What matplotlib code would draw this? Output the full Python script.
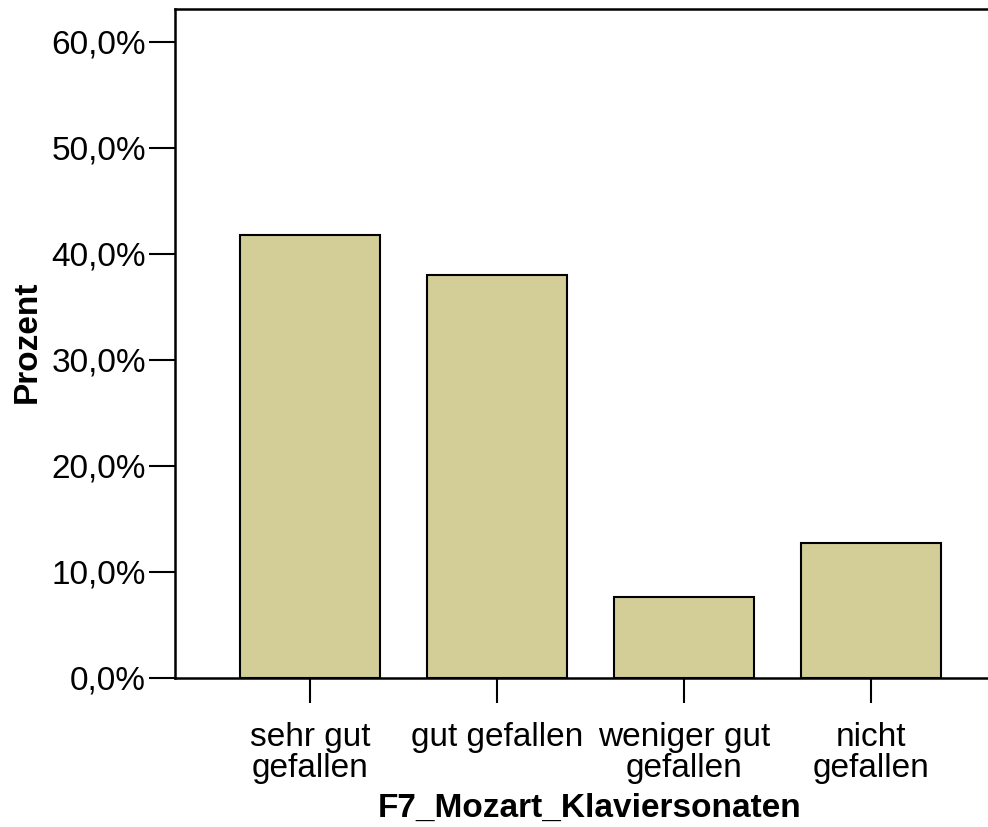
import numpy as np
from matplotlib import pyplot as plt
from matplotlib.ticker import FuncFormatter

plt.rcParams['font.family'] = ['Liberation Sans', 'DejaVu Sans']

# data
categories = ['sehr gut\ngefallen', 'gut gefallen', 'weniger gut\ngefallen', 'nicht\ngefallen']
percent = [41.8, 38.0, 7.6, 12.7]
yticks = [0, 10, 20, 30, 40, 50, 60]

fig = plt.figure(figsize=(9.88, 8.27), dpi=100)
W, H = 988, 827
ax = fig.add_axes([175 / W, (H - 678) / H, (W - 175) / W, (678 - 9) / H])

x = np.arange(len(categories))
ax.bar(x, percent, width=0.75, color='#d3ce98', edgecolor='black', linewidth=1.5, zorder=2)

ax.set_xlim(-0.722, 3.626)
ax.set_ylim(0, 63.1)
ax.set_xticks(x)
ax.set_xticklabels(categories, fontsize=24, linespacing=1.0)
ax.set_yticks(yticks)
ax.yaxis.set_major_formatter(FuncFormatter(lambda v, p: f'{v:.1f}%'.replace('.', ',')))

ax.tick_params(axis='y', which='major', length=19, width=1.5, direction='out', labelsize=24, pad=2)
ax.tick_params(axis='x', which='major', length=18, width=1.5, direction='out', pad=13.5)

ax.spines['right'].set_visible(False)
for s in ['top', 'bottom', 'left']:
    ax.spines[s].set_linewidth(1.8)

ax.set_ylabel('Prozent', fontsize=24, fontweight='bold')
ax.set_xlabel('F7_Mozart_Klaviersonaten', fontsize=24, fontweight='bold')
ax.xaxis.set_label_coords((590 - 175) / (W - 175), -(793 - 678) / (678 - 9))
ax.yaxis.set_label_coords(-(175 - 43) / (W - 175), (678 - 342) / (678 - 9))

plt.savefig('out.png', dpi=100)
